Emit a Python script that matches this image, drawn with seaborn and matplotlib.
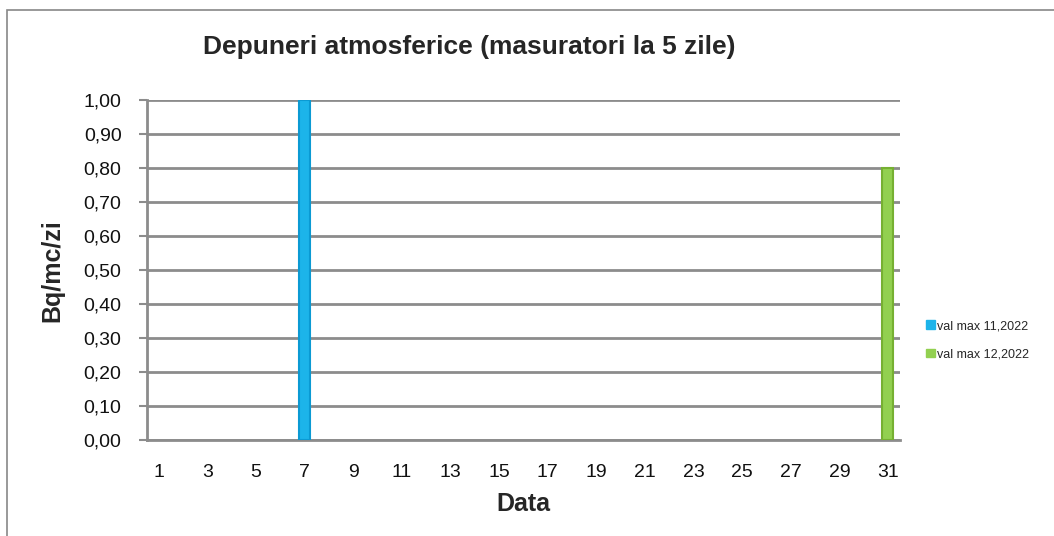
import pandas as pd
import seaborn as sb
import matplotlib.pyplot as plt
from matplotlib.patches import Rectangle, Patch
import numpy as np

# data
days = list(range(1, 32))
series_names = ['val max 11,2022', 'val max 12,2022']
nov_vals = [np.nan]*31
nov_vals[6] = 1.00     # day 7
dec_vals = [np.nan]*31
dec_vals[30] = 0.80    # day 31
colors = ['#1cb4ea', '#92d050']
edges = ['#0b9ad3', '#76b032']

df = pd.DataFrame({
    'Data': [str(d) for d in days]*2,
    'val': nov_vals + dec_vals,
    'serie': [series_names[0]]*31 + [series_names[1]]*31,
})

sb.set_style('white')
plt.rcParams['font.family'] = ['Liberation Sans', 'DejaVu Sans']

fig = plt.figure(figsize=(10.54, 5.36), dpi=100)
ax = fig.add_axes([0.139, 0.179, 0.715, 0.634])

#gridlines
for g in np.arange(0, 1.01, 0.1):
    ax.axhline(g, color='#8c8c8c', lw=2, zorder=0)

sb.barplot(data=df, x='Data', y='val', hue='serie', dodge=False, width=0.45,
           palette=colors, saturation=1, ax=ax, legend=False, zorder=3)
for cont, ec in zip(ax.containers, edges):
    for b in cont:
        b.set_edgecolor(ec)
        b.set_linewidth(1.5)

ax.set_ylim(0, 1.0)
ax.set_xlim(-0.5, 30.5)
ax.set_yticks(np.arange(0, 1.01, 0.1))
ax.set_yticklabels([('%.2f' % t).replace('.', ',') for t in np.arange(0, 1.01, 0.1)], fontsize=14)
ax.set_xticks(range(0, 31, 2))
ax.set_xticklabels([str(d) for d in days[::2]], fontsize=14)
ax.tick_params(axis='x', length=0, pad=17, colors='#111111')
ax.tick_params(axis='y', length=6, width=1.5, color='#8c8c8c', labelcolor='#111111', pad=12, left=True)

for s in ['top', 'right']:
    ax.spines[s].set_visible(False)
for s in ['left', 'bottom']:
    ax.spines[s].set_color('#8c8c8c')
    ax.spines[s].set_linewidth(2)

ax.set_xlabel('Data', fontsize=18, fontweight='bold', labelpad=8)
ax.set_ylabel('Bq/mc/zi', fontsize=18, fontweight='bold', labelpad=14)
fig.text(0.445, 0.913, 'Depuneri atmosferice (masuratori la 5 zile)', ha='center', va='center',
         fontsize=19, fontweight='bold')

handles = [Patch(facecolor=c, edgecolor=c) for c in colors]
fig.legend(handles, series_names, loc='center left', bbox_to_anchor=(0.868, 0.365),
           frameon=False, fontsize=9, handlelength=0.7, handleheight=0.7,
           handletextpad=0.2, labelspacing=1.3)

# chart border
fig.patches.append(Rectangle((7/1054, -0.1), 1.2, 1.1 - 10/536, transform=fig.transFigure,
                             fill=False, edgecolor='#888888', lw=1.2))

fig.savefig('out.png', dpi=100)
